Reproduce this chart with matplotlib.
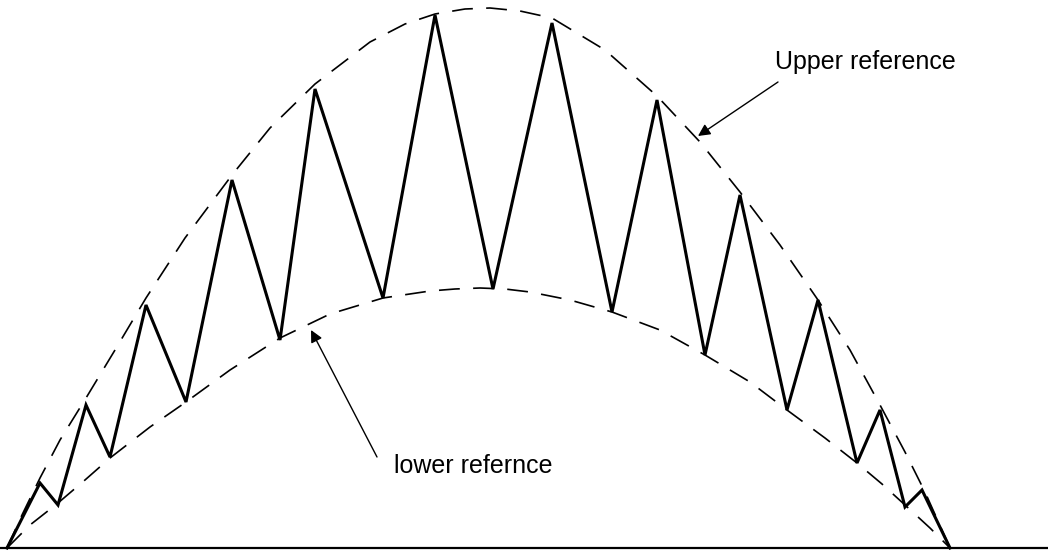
import matplotlib
matplotlib.use("Agg")
import matplotlib.pyplot as plt

zig_x = [7, 40, 58, 86, 110, 146, 186, 232, 280, 315, 383, 435, 493, 552,
         612, 657, 705, 740, 787, 818, 857, 880, 905, 922, 950]
zig_y = [548, 483, 505, 405, 457, 305, 402, 180, 340, 89, 298, 15, 289, 23,
         312, 100, 355, 195, 410, 300, 463, 410, 507, 490, 548]

# dashed envelopes
upper_x = [7, 22, 40, 60, 86, 115, 146, 185, 232, 270, 315, 370, 405, 435, 465,
           490, 520, 552, 605, 657, 700, 740, 780, 818, 850, 880, 905, 925, 950]
upper_y = [548, 515, 478, 440, 398, 350, 298, 238, 175, 128, 84, 42, 24, 14, 9,
           8, 11, 18, 50, 96, 142, 192, 245, 300, 350, 405, 452, 492, 548]
lower_x = [7, 30, 58, 85, 110, 150, 186, 230, 280, 330, 383, 430, 455, 480, 505,
           530, 570, 612, 660, 705, 750, 787, 825, 857, 882, 905, 930, 950]
lower_y = [548, 525, 503, 480, 458, 427, 402, 370, 338, 314, 298, 291, 289, 288, 289,
           292, 300, 312, 330, 355, 382, 410, 438, 463, 484, 505, 528, 548]

fig = plt.figure(figsize=(10.48, 5.55), dpi=100)
ax = fig.add_axes([0, 0, 1, 1])
ax.set_xlim(0, 1048)
ax.set_ylim(555, 0)
ax.axis('off')

ax.plot(upper_x, upper_y, color='black', lw=1.2, dashes=(12.5, 8))
ax.plot(lower_x, lower_y, color='black', lw=1.2, dashes=(12.5, 8))
ax.plot(zig_x, zig_y, color='black', lw=2.2, solid_joinstyle='miter')
ax.plot([0, 1048], [548, 548], color='black', lw=1.6)

ax.annotate('', xy=(698, 136), xytext=(778, 82),
            arrowprops=dict(arrowstyle='-|>', color='black', lw=1.0,
                            mutation_scale=18, shrinkA=0, shrinkB=0))
ax.text(775, 62, 'Upper reference', fontsize=18, family='Liberation Sans',
        va='center', ha='left')
ax.annotate('', xy=(311, 330), xytext=(377, 457),
            arrowprops=dict(arrowstyle='-|>', color='black', lw=1.0,
                            mutation_scale=18, shrinkA=0, shrinkB=0))
ax.text(394, 466, 'lower refernce', fontsize=18, family='Liberation Sans',
        va='center', ha='left')

fig.savefig('out.png', dpi=100)
